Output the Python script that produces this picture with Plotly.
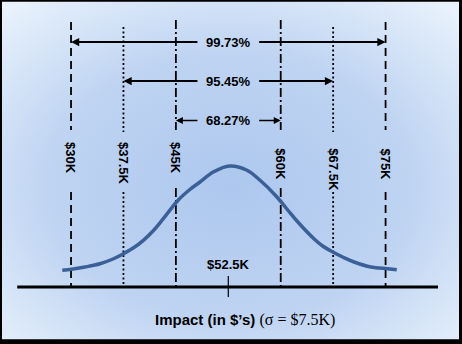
import base64
import plotly.graph_objects as go

# ---------------- data ----------------
mean_k = 52.5
sigma_k = 7.5
sigma_levels = [1, 2, 3]
coverage_labels = ["68.27%", "95.45%", "99.73%"]
tick_values = [30, 37.5, 45, 60, 67.5, 75]
tick_labels = ["$30K", "$37.5K", "$45K", "$60K", "$67.5K", "$75K"]
mean_label = "$52.5K"

# curve (x in $K, height in relative units)
curve_x = [28.75, 30.1, 32.0, 34.15, 36.0, 37.5, 39.0, 40.35, 41.8, 43.2, 45.35,
           47.0, 48.45, 50.35, 52.7, 55.1, 57.0, 59.4, 61.0, 62.45, 64.75,
           66.0, 67.45, 69.0, 70.5, 72.9, 75.3, 76.6]
curve_h = [16.7, 17.7, 20.0, 23.3, 28.0, 33.3, 39.5, 46.7, 56.5, 68.3, 87.0,
           97.5, 105.0, 115.0, 121.0, 117.0, 107.0, 90.5, 77.0, 65.0, 48.3,
           41.0, 35.0, 29.5, 25.0, 20.0, 18.3, 17.3]

baseline_x = [22.3, 82.5]

# ---------------- styles / layout ----------------
W, H = 462, 344
px_per_k = 6.99
mean_px = 228.3
base_py = 287
x_range = [mean_k - mean_px / px_per_k, mean_k + (W - mean_px) / px_per_k]
y_range = [base_py - H, base_py]

line_style = {
    3: dict(dash="8px,5px", upper=(265, 157), lower=(95, 0)),
    2: dict(dash="2px,2.5px", upper=(260, 155), lower=(95, 0)),
    1: dict(dash="9px,3px,2px,3px", upper=(267, 157), lower=(99, 0)),
}
arrow_y = {3: 245, 2: 206, 1: 166.5}
arrow_w = {3: 2.2, 2: 2.2, 1: 1.4}
arrow_s = {3: 0.75, 2: 0.75, 1: 1.0}
arrow_gap = 4.2

bold = dict(family="Liberation Sans, Arial, sans-serif", size=13, color="black")

fig = go.Figure()

# vertical sigma lines
for k in sigma_levels:
    st = line_style[k]
    xs, ys = [], []
    for v in (mean_k - k * sigma_k, mean_k + k * sigma_k):
        xs += [v, v, None, v, v, None]
        ys += [st["upper"][0], st["upper"][1], None, st["lower"][0], st["lower"][1], None]
    fig.add_trace(go.Scatter(x=xs, y=ys, mode="lines",
                             line=dict(color="black", width=1.8, dash=st["dash"]),
                             hoverinfo="skip", showlegend=False))

# baseline
fig.add_trace(go.Scatter(x=baseline_x, y=[0, 0], mode="lines",
                         line=dict(color="black", width=3),
                         hoverinfo="skip", showlegend=False))
# mean tick
fig.add_trace(go.Scatter(x=[mean_k, mean_k], y=[11, -10], mode="lines",
                         line=dict(color="black", width=1.2),
                         hoverinfo="skip", showlegend=False))

# curve
fig.add_trace(go.Scatter(x=curve_x, y=curve_h, mode="lines",
                         line=dict(color="#3b5f97", width=3.5, shape="spline"),
                         hoverinfo="skip", showlegend=False))

ann = []
# coverage arrows and labels
for k, lab in zip(sigma_levels, coverage_labels):
    y = arrow_y[k]
    for tip, tail in ((mean_k - k * sigma_k, mean_k - arrow_gap),
                      (mean_k + k * sigma_k, mean_k + arrow_gap)):
        ann.append(dict(x=tip, y=y, ax=tail, ay=y, axref="x", ayref="y",
                        xref="x", yref="y", text="", showarrow=True,
                        arrowhead=2, arrowsize=arrow_s[k], arrowwidth=arrow_w[k],
                        arrowcolor="black", standoff=0, startstandoff=0))
    ann.append(dict(x=mean_k, y=y, xref="x", yref="y", text="<b>%s</b>" % lab,
                    showarrow=False, font=bold, xanchor="center", yanchor="middle"))

# rotated tick labels
for v, lab in zip(tick_values, tick_labels):
    top = 147 if v < mean_k else 141
    ann.append(dict(x=v, y=top, xref="x", yref="y", text="<b>%s</b>" % lab,
                    showarrow=False, font=bold, textangle=90,
                    xanchor="center", yanchor="top"))

# mean label
ann.append(dict(x=mean_k, y=23, xref="x", yref="y", text="<b>%s</b>" % mean_label,
                showarrow=False, font=bold, xanchor="center", yanchor="middle"))

# axis title
ann.append(dict(x=41.7, y=-33, xref="x", yref="y",
                text="<b>Impact (in $’s)</b> <span style='font-family:Liberation Serif, Times New Roman, serif;font-size:16px;font-weight:normal'>(σ = $7.5K)</span>",
                showarrow=False, xanchor="left", yanchor="middle",
                font=dict(family="Liberation Sans, Arial, sans-serif", size=15, color="black")))

# background gradient image
svg = ("<svg xmlns='http://www.w3.org/2000/svg' width='457' height='338' viewBox='0 0 457 338' "
       "preserveAspectRatio='none'><defs><radialGradient id='g' cx='0.5' cy='0.55' r='0.72'>"
       "<stop offset='0' stop-color='#adc7ee'/><stop offset='0.55' stop-color='#bfd4f2'/>"
       "<stop offset='1' stop-color='#e9f2fc'/></radialGradient></defs>"
       "<rect width='457' height='338' fill='url(#g)'/></svg>")
src = "data:image/svg+xml;base64," + base64.b64encode(svg.encode()).decode()

fig.update_layout(
    width=W, height=H,
    margin=dict(l=0, r=0, t=0, b=0, pad=0),
    paper_bgcolor="black",
    plot_bgcolor="rgba(0,0,0,0)",
    xaxis=dict(range=x_range, visible=False, fixedrange=True),
    yaxis=dict(range=y_range, visible=False, fixedrange=True),
    annotations=ann,
    images=[dict(source=src, xref="paper", yref="paper",
                 x=2 / W, y=1 - 1.5 / H, sizex=457 / W, sizey=338 / H,
                 xanchor="left", yanchor="top", sizing="stretch", layer="below")],
    showlegend=False,
)

fig.write_html("out.html", config={"displayModeBar": False})
